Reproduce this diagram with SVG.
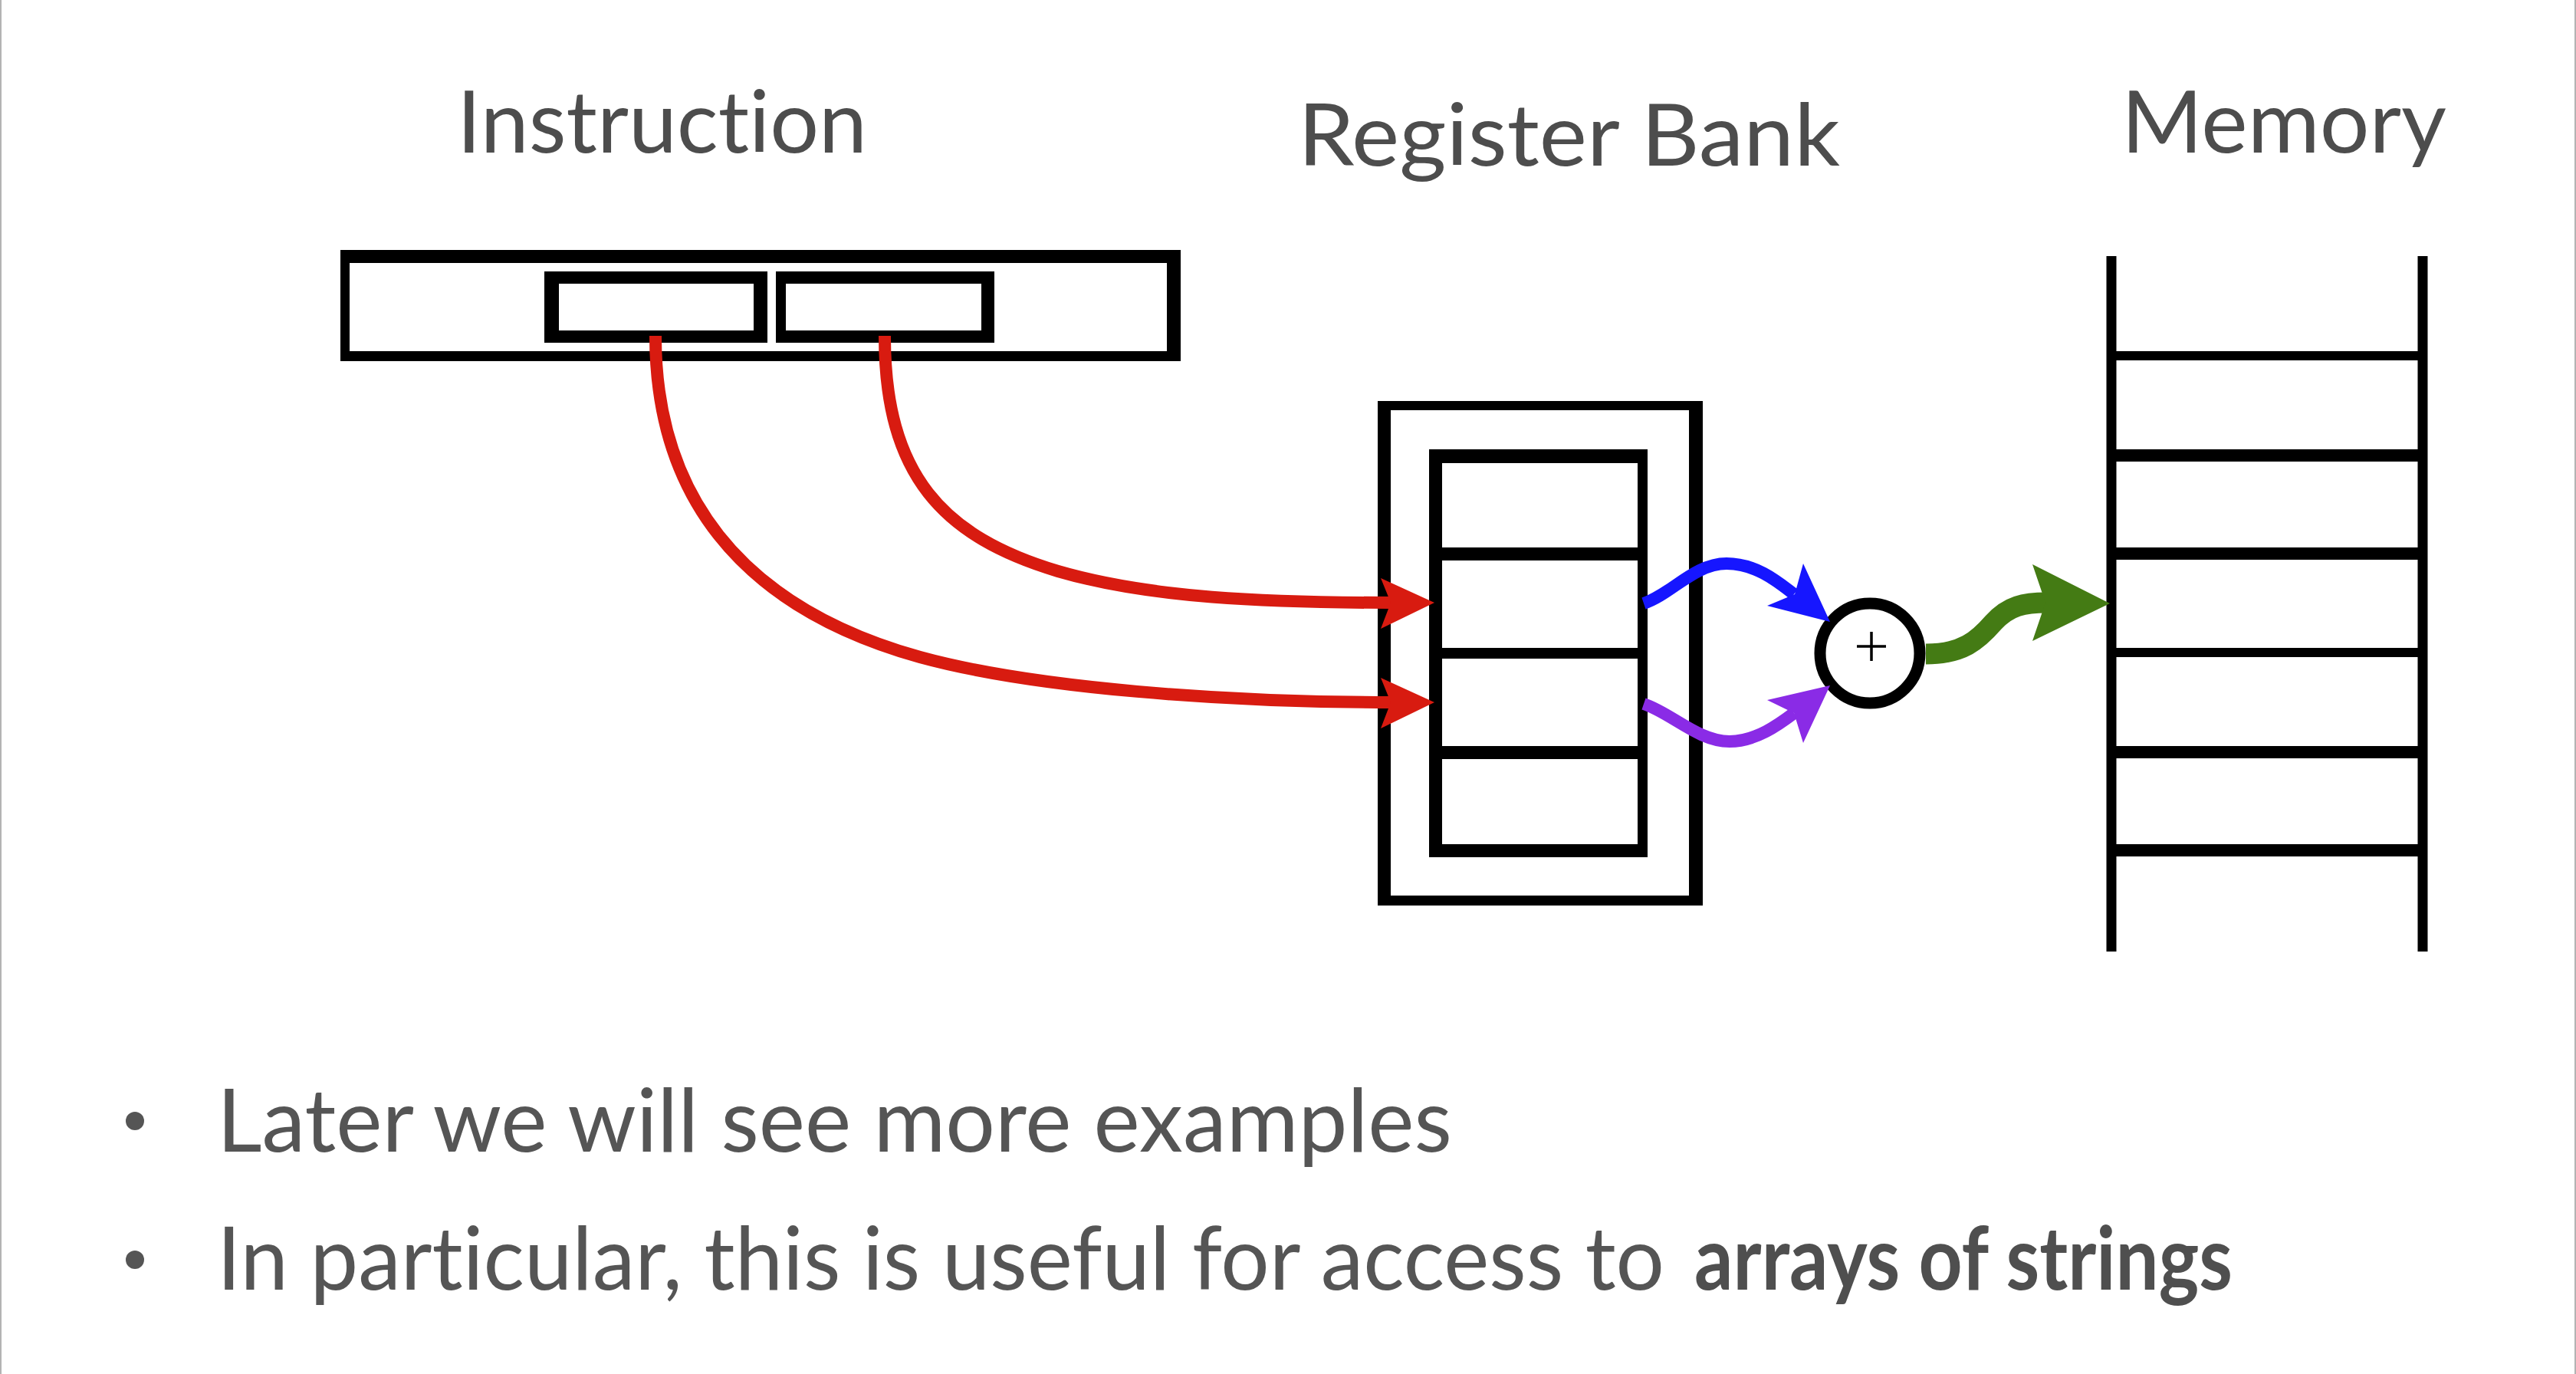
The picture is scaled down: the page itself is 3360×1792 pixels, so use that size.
<svg xmlns="http://www.w3.org/2000/svg" width="3360" height="1792" viewBox="0 0 3360 1792">
  <style>
    text { font-variant-ligatures: none; font-feature-settings: "liga" 0, "clig" 0; }
    .blk { fill: #000000; }
    .wht { fill: #ffffff; }
    .line { stroke: #000000; fill: none; }
    .head { font-family: Lato, "Open Sans", "Liberation Sans", sans-serif; font-size: 112px; font-weight: 400; fill: #4d4d4d; }
    .body { font-family: Lato, "Open Sans", "Liberation Sans", sans-serif; font-size: 114px; font-weight: 400; fill: #555555; }
    .bold { font-weight: 700; fill: #4f4f4f; }
    .red { stroke: #d81b10; stroke-width: 16; fill: none; }
    .redh { fill: #d81b10; }
    .blue { stroke: #1616ff; stroke-width: 16; fill: none; }
    .blueh { fill: #1616ff; }
    .purple { stroke: #8a2be6; stroke-width: 16; fill: none; }
    .purpleh { fill: #8a2be6; }
    .green { stroke: #447b14; stroke-width: 27; fill: none; }
    .greenh { fill: #447b14; }
  </style>
  <rect x="0" y="0" width="3360" height="1792" fill="#ffffff"/>
  <rect x="0" y="0" width="2" height="1792" fill="#b3b3b3"/>
  <rect x="3358" y="0" width="2" height="1792" fill="#b3b3b3"/>

  <g id="labels">
    <text class="head" x="596" y="199" textLength="535" lengthAdjust="spacingAndGlyphs">Instruction</text>
    <text class="head" x="1693" y="216" textLength="707" lengthAdjust="spacingAndGlyphs">Register Bank</text>
    <text class="head" x="2767" y="199" textLength="424" lengthAdjust="spacingAndGlyphs">Memory</text>
  </g>

  <g id="node-instruction">
    <rect class="blk" x="444" y="326" width="1096" height="145"/>
    <rect class="wht" x="456" y="343" width="1066" height="115"/>
    <rect class="blk" x="710" y="354" width="291" height="93"/>
    <rect class="wht" x="729" y="370" width="254" height="61"/>
    <rect class="blk" x="1012" y="354" width="285" height="93"/>
    <rect class="wht" x="1025" y="370" width="255" height="61"/>
  </g>

  <g id="node-register-bank">
    <rect class="blk" x="1797" y="523" width="424" height="658"/>
    <rect class="wht" x="1814" y="535" width="389" height="633"/>
    <rect class="blk" x="1864" y="586" width="285" height="532"/>
    <rect class="wht" x="1881" y="604" width="255" height="110"/>
    <rect class="wht" x="1881" y="731" width="255" height="114"/>
    <rect class="wht" x="1881" y="859" width="255" height="114"/>
    <rect class="wht" x="1881" y="990" width="255" height="111"/>
  </g>

  <g id="node-adder">
    <circle cx="2439" cy="852" r="65" fill="#ffffff" stroke="#000000" stroke-width="15"/>
    <path d="M2422,843 H2460 M2441,824 V862" stroke="#000000" stroke-width="3.5" fill="none"/>
  </g>

  <g id="node-memory">
    <path class="line" d="M2754,334 V1241 M3160,334 V1241" stroke-width="13"/>
    <path class="line" d="M2754,464 H3160 M2754,851 H3160" stroke-width="12"/>
    <path class="line" d="M2754,594 H3160 M2754,722 H3160 M2754,981 H3160 M2754,1109 H3160" stroke-width="16"/>
  </g>

  <g id="connectors">
    <path class="red" d="M1154,438 C1154,620 1230,700 1380,745 C1500,780 1650,786 1816,786"/>
    <polygon class="redh" points="1871,786 1801,754 1814,786 1801,820"/>
    <path class="red" d="M855,438 C855,640 960,790 1200,857 C1350,898 1600,916 1816,916"/>
    <polygon class="redh" points="1871,916 1801,884 1814,916 1801,950"/>
    <path class="blue" d="M2144,787 C2180,775 2210,735 2252,735 C2290,735 2318,758 2340,775"/>
    <polygon class="blueh" points="2387,811 2352,735 2341,775 2305,790"/>
    <path class="purple" d="M2144,918 C2180,930 2215,967 2256,967 C2290,967 2320,945 2340,930"/>
    <polygon class="purpleh" points="2387,894 2305,913 2340,930 2352,969"/>
    <path class="green" d="M2512,853 C2560,853 2580,835 2600,812 C2620,790 2640,786 2670,786"/>
    <polygon class="greenh" points="2752,787 2651,736 2668,786 2651,836"/>
  </g>

  <g id="bullets">
    <circle cx="176" cy="1462" r="12" fill="#555555"/>
    <text class="body" x="283" y="1502" textLength="1611" lengthAdjust="spacingAndGlyphs">Later we will see more examples</text>
    <circle cx="176" cy="1643" r="12" fill="#555555"/>
    <text class="body" x="283" y="1682" textLength="1888" lengthAdjust="spacingAndGlyphs">In particular, this is useful for access to</text>
    <text class="body bold" x="2210" y="1682" textLength="702" lengthAdjust="spacingAndGlyphs">arrays of strings</text>
  </g>
</svg>
